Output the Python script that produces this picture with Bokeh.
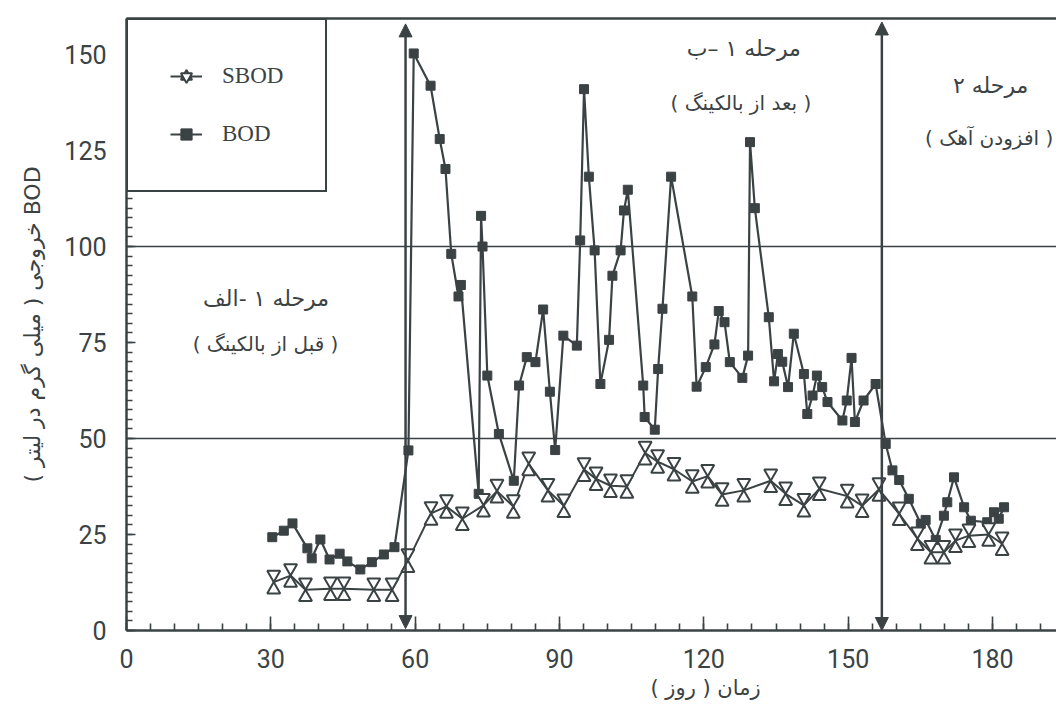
from bokeh.plotting import figure
from bokeh.models import (Range1d, SingleIntervalTicker, FixedTicker, LinearAxis, Label, Title,
                          Arrow, NormalHead, Legend, LegendItem, ColumnDataSource)
from bokeh.transform import dodge
from bokeh.embed import file_html
from bokeh.resources import INLINE

INK = "#3b4244"

# ---------------- data ----------------
sbod_day = [30.6, 34.1, 37.2, 42.4, 45.2, 51.4, 55.2, 58.5, 63.3, 66.5, 69.8, 74.2, 77.0,
            80.4, 83.6, 87.6, 90.9, 95.1, 97.6, 100.6, 104.0, 107.8, 110.4, 113.8, 117.6,
            120.8, 123.8, 128.3, 133.9, 137.0, 140.8, 144.0, 149.8, 152.9, 156.4, 160.6,
            164.4, 167.2, 169.9, 172.3, 175.1, 179.2, 182.0]
sbod_val = [12.6, 14.3, 10.6, 10.9, 10.9, 10.6, 10.6, 18.2, 30.5, 32.3, 29.1, 32.6, 36.3,
            32.3, 43.4, 36.5, 32.5, 41.9, 39.5, 37.7, 37.5, 46.2, 44.0, 42.0, 38.8,
            40.2, 35.4, 36.5, 39.0, 35.6, 32.6, 36.9, 35.0, 32.5, 36.7, 30.4,
            23.9, 20.4, 20.4, 23.4, 24.7, 25.0, 22.6]

bod_day = [30.3, 32.7, 34.5, 37.6, 38.5, 40.3, 42.2, 44.3, 45.9, 48.6, 51.0, 53.5, 55.7,
           58.6, 59.7, 63.2, 65.1, 66.3, 67.5, 69.0, 69.5, 73.2, 73.7, 74.0, 75.0, 77.4,
           80.5, 81.6, 83.2, 85.0, 86.6, 88.0, 89.1, 90.8, 93.6, 94.3, 95.1, 96.1, 97.3,
           98.5, 100.3, 101.0, 102.7, 103.4, 104.2, 107.4, 107.7, 109.8, 110.5, 111.4,
           113.2, 117.6, 118.5, 120.4, 122.2, 123.1, 124.3, 125.4, 128.0, 129.2, 129.6,
           130.6, 133.5, 134.6, 135.4, 136.3, 137.5, 138.7, 140.8, 141.5, 142.6, 143.5,
           144.6, 145.7, 148.8, 149.7, 150.7, 151.4, 153.2, 155.7, 157.8, 159.2, 160.6,
           162.6, 165.1, 166.1, 168.2, 169.9, 170.6, 172.0, 174.1, 175.5, 178.9, 180.3,
           181.3, 182.4]
bod_val = [24.3, 26.0, 27.9, 21.4, 18.8, 23.7, 18.5, 20.0, 18.0, 15.9, 17.8, 19.8, 21.7,
           46.9, 150.3, 141.9, 128.0, 120.2, 98.1, 87.0, 90.0, 35.6, 108.0, 100.0, 66.4, 51.2,
           39.0, 63.8, 71.2, 69.9, 83.6, 62.2, 47.0, 76.8, 74.2, 101.6, 141.0, 118.2, 99.0,
           64.2, 75.7, 92.4, 99.0, 109.4, 114.8, 63.8, 55.6, 52.3, 68.1, 83.8,
           118.2, 87.0, 63.5, 68.6, 74.5, 83.2, 80.3, 69.9, 65.8, 71.6, 127.2,
           110.0, 81.6, 64.9, 72.0, 70.0, 63.4, 77.3, 66.8, 56.4, 61.2, 66.4,
           63.4, 59.5, 54.7, 59.9, 71.0, 54.3, 59.9, 64.2, 48.6, 41.7, 39.2,
           34.3, 27.8, 28.8, 23.6, 29.9, 33.4, 39.9, 32.1, 28.6, 28.2, 30.8,
           29.1, 32.1]

phase_days = [58, 157]
arrow_bottom = [0.5, 0.0]
arrow_top = [158.0, 158.5]

series_names = ["SBOD", "BOD"]
x_label = "زمان ( روز )"
y_label = "BOD خروجی ( میلی گرم در لیتر )"
phase_titles = ["مرحله ۱ -الف", "مرحله ۱ –ب", "مرحله ۲"]
phase_notes = ["( قبل از بالکینگ )", "( بعد از بالکینگ )", "( افزودن آهک )"]


def rtl(s):
    return "\u202b" + s + "\u202c"


# ---------------- figure ----------------
p = figure(width=1056, height=710, x_range=Range1d(0, 193.3), y_range=Range1d(0, 159.4),
           output_backend="svg", toolbar_location=None,
           min_border_left=126, min_border_right=0, min_border_top=18, min_border_bottom=80)
p.outline_line_color = None
p.background_fill_color = "white"
p.border_fill_color = "white"

p.xgrid.visible = False
p.ygrid.ticker = FixedTicker(ticks=[50, 100])
p.ygrid.grid_line_color = INK
p.ygrid.grid_line_width = 1.6

xa = p.xaxis[0]
xa.ticker = SingleIntervalTicker(interval=30, num_minor_ticks=6)
xa.axis_line_color = INK
xa.axis_line_width = 2.5
xa.major_tick_in = 14
xa.major_tick_out = 0
xa.minor_tick_in = 7
xa.minor_tick_out = 0
xa.major_tick_line_color = INK
xa.major_tick_line_width = 1.6
xa.minor_tick_line_color = INK
xa.minor_tick_line_width = 1.6
xa.major_label_text_font = "Roboto"
xa.major_label_text_font_size = "25px"
xa.major_label_text_color = INK
xa.major_label_standoff = 18

ya = p.yaxis[0]
ya.ticker = SingleIntervalTicker(interval=25, num_minor_ticks=10)
ya.axis_line_color = INK
ya.axis_line_width = 2.5
ya.major_tick_in = 9
ya.major_tick_out = 0
ya.minor_tick_in = 6
ya.minor_tick_out = 0
ya.major_tick_line_color = INK
ya.major_tick_line_width = 1.6
ya.minor_tick_line_color = INK
ya.minor_tick_line_width = 1.4
ya.major_label_text_font = "Roboto"
ya.major_label_text_font_size = "25px"
ya.major_label_text_color = INK
ya.major_label_standoff = 20
ya.axis_label = rtl(y_label)
ya.axis_label_text_font = "DejaVu Sans"
ya.axis_label_text_font_style = "normal"
ya.axis_label_text_font_size = "22px"
ya.axis_label_text_color = INK
ya.axis_label_standoff = 16

top_axis = LinearAxis(ticker=FixedTicker(ticks=[]), axis_line_color=INK, axis_line_width=2.5,
                      major_tick_line_color=None, minor_tick_line_color=None,
                      major_label_text_color=None)
p.add_layout(top_axis, "above")

# x-axis title: sits right of the frame centre in the original (its frame is cropped)
x_title = Title(text=rtl(x_label), align="left", offset=524, standoff=7,
                text_font="DejaVu Sans", text_font_size="21px", text_font_style="normal",
                text_color=INK)
p.add_layout(x_title, "below")

# ---------------- series ----------------
sb = ColumnDataSource(dict(x=sbod_day, y=sbod_val))
bd = ColumnDataSource(dict(x=bod_day, y=bod_val))

TRI = 13
px_per_unit = (710 - 18 - 80) / 159.4
off = (TRI / 2 * 3 ** 0.5 * 2 / 3) / px_per_unit

l_b = p.line("x", "y", source=bd, line_color=INK, line_width=2.2)
s_b = p.scatter("x", "y", source=bd, marker="square", size=9, fill_color=INK, line_color=INK)

l_s = p.line("x", "y", source=sb, line_color=INK, line_width=2.0)
t_up = p.scatter(x="x", y=dodge("y", -off, range=p.y_range), source=sb, marker="triangle",
                 size=TRI, fill_color="white", line_color=INK, line_width=2)
t_dn = p.scatter(x="x", y=dodge("y", off, range=p.y_range), source=sb,
                 marker="inverted_triangle", size=TRI, fill_color="white", line_color=INK,
                 line_width=2)

# ---------------- phase arrows ----------------
arr = ColumnDataSource(dict(x=phase_days, y0=arrow_bottom, y1=arrow_top))
p.add_layout(Arrow(start=NormalHead(size=13, fill_color=INK, line_color=INK),
                   end=NormalHead(size=13, fill_color=INK, line_color=INK),
                   x_start="x", y_start="y0", x_end="x", y_end="y1", source=arr,
                   line_color=INK, line_width=2.5))

# ---------------- phase labels ----------------
title_pos = [(29.0, 86.5), (128.3, 151.6), (179.6, 141.9)]
note_pos = [(28.9, 74.7), (127.7, 137.5), (179.3, 128.4)]
for (tx, ty), s in zip(title_pos, phase_titles):
    p.add_layout(Label(x=tx, y=ty, text=rtl(s), text_font="DejaVu Sans", text_font_size="22px",
                       text_color=INK, text_align="center", text_baseline="middle"))
for (tx, ty), s in zip(note_pos, phase_notes):
    p.add_layout(Label(x=tx, y=ty, text=rtl(s), text_font="DejaVu Sans", text_font_size="20px",
                       text_color=INK, text_align="center", text_baseline="middle"))

# ---------------- legend ----------------
legend = Legend(items=[LegendItem(label=series_names[0], renderers=[l_s, t_up, t_dn]),
                       LegendItem(label=series_names[1], renderers=[l_b, s_b])],
                location="top_left", margin=0, padding=42, spacing=30,
                glyph_width=32, glyph_height=28, label_height=28, label_standoff=20,
                label_text_font="Liberation Serif", label_text_font_size="23px",
                label_text_color=INK, border_line_color=INK, border_line_width=2.5,
                border_line_alpha=1.0,
                background_fill_color="white", background_fill_alpha=1.0)
p.add_layout(legend)

open("out.html", "w").write(file_html(p, INLINE))
